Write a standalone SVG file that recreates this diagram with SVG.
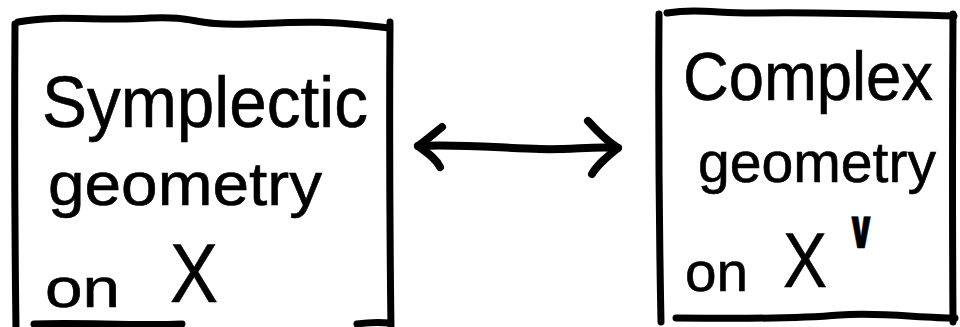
<svg xmlns="http://www.w3.org/2000/svg" width="960" height="327" viewBox="0 0 960 327">
<style>
.frame{fill:none;stroke:#000;stroke-width:7;stroke-linecap:round;stroke-linejoin:round}
.hand{font-family:"Liberation Sans","DejaVu Sans",sans-serif;fill:#000;stroke:#000;stroke-width:0.6}
.conn{fill:none;stroke:#000;stroke-width:8;stroke-linecap:round;stroke-linejoin:round}
</style>
<rect width="960" height="327" fill="#fff"/>
<g id="symplectic">
  <path class="frame" d="M15,24 Q14,175 16,330"/>
  <path class="frame" d="M18,22 C60,14 100,22 150,18 C200,16 190,26 250,24 C300,22 320,20 389,28"/>
  <path class="frame" d="M390,22 Q389,170 391,330"/>
  <path class="frame" d="M34,324 C80,322 130,326 182,324"/>
  <path class="frame" d="M357,324 C370,322 380,322 390,323"/>
  <text class="hand" x="42" y="127" font-size="72" textLength="326" lengthAdjust="spacingAndGlyphs">Symplectic</text>
  <text class="hand" x="48" y="205" font-size="62" textLength="274" lengthAdjust="spacingAndGlyphs">geometry</text>
  <text class="hand" x="45" y="307" font-size="56" textLength="75" lengthAdjust="spacingAndGlyphs">on</text>
  <text class="hand" x="170" y="302" font-size="84" textLength="48" lengthAdjust="spacingAndGlyphs">X</text>
</g>
<g id="complex">
  <path class="frame" d="M659,14 Q658,170 661,322"/>
  <path class="frame" d="M667,13 C700,8 720,14 760,13 C820,12 880,14 954,16"/>
  <path class="frame" d="M953,14 Q952,170 953,322"/>
  <path class="frame" d="M676,318 C720,318 780,320 840,315 C880,312 920,318 955,318"/>
  <text class="hand" x="683" y="100" font-size="68" textLength="250" lengthAdjust="spacingAndGlyphs">Complex</text>
  <text class="hand" x="698" y="182" font-size="58" textLength="238" lengthAdjust="spacingAndGlyphs">geometry</text>
  <text class="hand" x="685" y="291" font-size="56" textLength="63" lengthAdjust="spacingAndGlyphs">on</text>
  <text class="hand" x="783" y="287" font-size="78" textLength="44" lengthAdjust="spacingAndGlyphs">X</text>
  <text class="hand" x="846" y="248" font-size="54" font-weight="bold" stroke-width="2" textLength="30" lengthAdjust="spacingAndGlyphs">∨</text>
</g>
<g id="connectors">
  <path class="conn" d="M418,146 C460,144 500,148 540,149 C570,150 595,146 618,148"/>
  <path class="conn" d="M442,127 C432,135 424,142 418,146 C426,152 436,158 440,167"/>
  <path class="conn" d="M588,121 C598,132 608,142 618,148 C608,156 598,164 592,174"/>
</g>
</svg>
